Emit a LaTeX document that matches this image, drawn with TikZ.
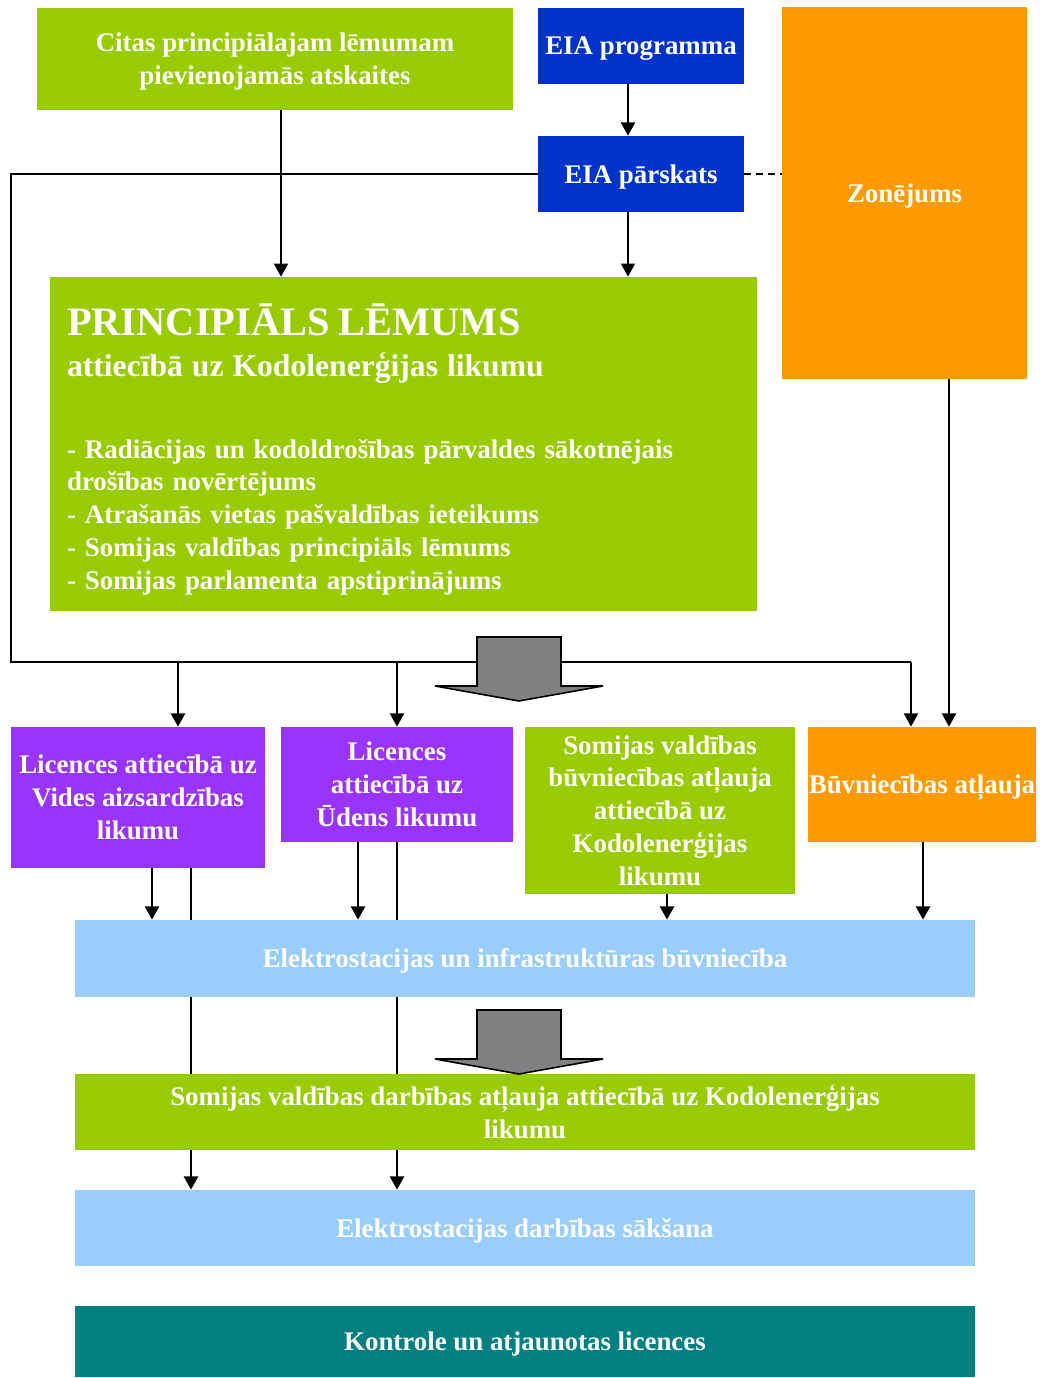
\documentclass[tikz,border=0pt]{standalone}
\usepackage{fontspec}
\setmainfont{Liberation Serif}
\usetikzlibrary{arrows.meta,backgrounds}
\definecolor{leaf}{HTML}{99CC00}
\definecolor{eia}{HTML}{0033CC}
\definecolor{zone}{HTML}{FF9900}
\definecolor{lic}{HTML}{9933FF}
\definecolor{sky}{HTML}{99CCFF}
\definecolor{sea}{HTML}{008080}
\begin{document}
\begin{tikzpicture}[x=0.02cm, y=-0.02cm, inner sep=0pt,
  main/.style = {fill=#1, text=white, font=\fontsize{15.3}{18.7}\selectfont\bfseries, align=center, text depth=-3pt},
  arr/.style = {-{Triangle[width=8pt,length=7.5pt]}, line width=1.1pt},
  wire/.style = {line width=0.9pt},
  bigarr/.style = {draw, fill=gray, line width=0.9pt}]
\useasboundingbox (0,0) rectangle (1043,1378);
\node[main=leaf, minimum width=9.52cm, minimum height=2.04cm] (1) at (275,59) {Citas principiālajam lēmumam\\pievienojamās atskaites};
\node[main=eia, minimum width=4.12cm, minimum height=1.52cm] (2) at (641,46) {EIA programma};
\node[main=eia, minimum width=4.12cm, minimum height=1.52cm] (3) at (641,174) {EIA pārskats};
\node[main=zone, minimum width=4.9cm, minimum height=7.44cm] (4) at (904.5,193) {Zonējums};
\node[main=leaf, minimum width=14.14cm, minimum height=6.68cm, text width=13.46cm, align=left, text depth={}] (5) at (403.5,444) {
  {\fontsize{23}{28}\selectfont PRINCIPIĀLS LĒMUMS\par}
  {\fontsize{18}{23.3}\selectfont attiecībā uz Kodolenerģijas likumu\par}
  \vspace{27.7pt}
  - Radiācijas un kodoldrošības pārvaldes sākotnējais\\
  drošības novērtējums\\
  - Atrašanās vietas pašvaldības ieteikums\\
  - Somijas valdības principiāls lēmums\\
  - Somijas parlamenta apstiprinājums\par
  \vspace{-6.3pt}};
\node[main=lic, minimum width=5.08cm, minimum height=2.82cm] (6) at (138,797.5) {Licences attiecībā uz\\Vides aizsardzības\\likumu};
\node[main=lic, minimum width=4.64cm, minimum height=2.3cm] (7) at (397,784.5) {Licences\\attiecībā uz\\Ūdens likumu};
\node[main=leaf, minimum width=5.4cm, minimum height=3.34cm] (8) at (660,810.5) {Somijas valdības\\būvniecības atļauja\\attiecībā uz\\Kodolenerģijas\\likumu};
\node[main=zone, minimum width=4.56cm, minimum height=2.3cm] (9) at (922,784.5) {Būvniecības atļauja};
\node[main=sky, minimum width=18cm, minimum height=1.54cm] (10) at (525,958.5) {Elektrostacijas un infrastruktūras būvniecība};
\node[main=leaf, minimum width=18cm, minimum height=1.52cm] (11) at (525,1112) {Somijas valdības darbības atļauja attiecībā uz Kodolenerģijas\\likumu};
\node[main=sky, minimum width=18cm, minimum height=1.52cm] (12) at (525,1228) {Elektrostacijas darbības sākšana};
\node[main=sea, minimum width=18cm, minimum height=1.42cm] (13) at (525,1341.5) {Kontrole un atjaunotas licences};
\coordinate (b) at (11,662);
\coordinate (c) at (911,662);
\begin{scope}[on background layer]
\draw[arr] ([xshift=0.12cm]1.south) -- ([xshift=0.12cm]1.south |- 5.north);
\draw[arr] ([xshift=-0.26cm]2.south) -- ([xshift=-0.26cm]2.south |- 3.north);
\draw[arr] ([xshift=-0.26cm]3.south) -- ([xshift=-0.26cm]3.south |- 5.north);
\draw[dashed, dash pattern=on 0.14cm off 0.1cm, line width=1.1pt] (3.east) -- (3.east -| 4.west);
\draw[wire] (3.west) -| (b) -- (c);
\draw[arr] (c) -- (c |- 9.north);
\draw[arr] ([xshift=0.8cm]6.north |- b) -- ([xshift=0.8cm]6.north);
\draw[arr] (7.north |- b) -- (7.north);
\draw[arr] ([xshift=0.89cm]4.south) -- ([xshift=0.89cm]4.south |- 9.north);
\draw[arr] ([xshift=0.28cm]6.south) -- ([xshift=0.28cm]6.south |- 10.north);
\draw[arr] ([xshift=1.06cm]6.south) -- ([xshift=1.06cm]6.south |- 12.north);
\draw[arr] ([xshift=-0.78cm]7.south) -- ([xshift=-0.78cm]7.south |- 10.north);
\draw[arr] (7.south) -- (7.south |- 12.north);
\draw[arr] ([xshift=0.14cm]8.south) -- ([xshift=0.14cm]8.south |- 10.north);
\draw[arr] ([xshift=0.02cm]9.south) -- ([xshift=0.02cm]9.south |- 10.north);
\end{scope}
\foreach \y in {637,1010}
  \draw[bigarr] (477,\y) -- ++(84,0) -- ++(0,49) -- ++(42,0) -- ++(-84,15) -- ++(-84,-15) -- ++(42,0) -- cycle;
\end{tikzpicture}
\end{document}
